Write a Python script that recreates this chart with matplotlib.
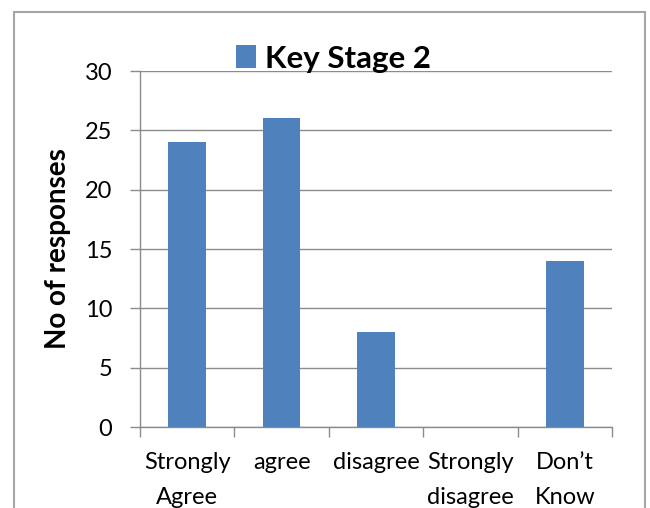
import matplotlib
matplotlib.use("Agg")
import matplotlib.pyplot as plt
from matplotlib.patches import Rectangle

categories = ["Strongly\nAgree", "agree", "disagree", "Strongly\ndisagree", "Don\u2019t\nKnow"]
values = [24, 26, 8, 0, 14]
series_name = "Key Stage 2"
yticks = [0, 5, 10, 15, 20, 25, 30]

plt.rcParams['font.family'] = ['Lato', 'DejaVu Sans']
bar_color = "#4F81BD"
grid_color = "#8C8C8C"

fig = plt.figure(figsize=(6.5, 5.08), dpi=100)
W, H = 650, 508
ax = fig.add_axes([140 / W, 1 - 427 / H, (612 - 140) / W, (427 - 71) / H])

x = list(range(len(categories)))
ax.bar(x, values, width=0.4, color=bar_color, zorder=3, label=series_name)
ax.set_xlim(-0.5, len(categories) - 0.5)
ax.set_ylim(0, 30)
ax.set_yticks(yticks)
ax.set_yticklabels([str(t) for t in yticks], fontsize=17)
ax.yaxis.grid(True, color=grid_color, linewidth=1.0, zorder=0)
ax.set_axisbelow(True)

# x ticks at category boundaries, labels centered
ax.set_xticks([i - 0.5 for i in range(len(categories) + 1)])
ax.set_xticklabels([])
ax.set_xticks(x, minor=True)
ax.set_xticklabels(categories, minor=True, fontsize=17, linespacing=1.85)
ax.tick_params(axis='x', which='minor', length=0, pad=18)
ax.tick_params(axis='x', which='major', length=7, color=grid_color, width=1)
ax.tick_params(axis='y', length=7, color=grid_color, width=1, pad=13)

for s in ["top", "right"]:
    ax.spines[s].set_visible(False)
for s in ["left", "bottom"]:
    ax.spines[s].set_color(grid_color)
    ax.spines[s].set_linewidth(1.0)

ax.set_ylabel("No of responses", fontsize=20, fontweight='bold', labelpad=10)

leg = ax.legend(loc='center', bbox_to_anchor=(0.41, 1.035), frameon=False,
                prop={'weight': 'bold', 'size': 22.5},
                handlelength=0.62, handleheight=0.75, handletextpad=0.3,
                borderaxespad=0, borderpad=0)

# figure border
fig.patches.append(Rectangle((14 / W, -0.05), (645 - 14) / W, 1 - 12 / H + 0.05,
                             transform=fig.transFigure, fill=False,
                             edgecolor="#A6A6A6", linewidth=1.5))

fig.savefig("out.png", dpi=100)
